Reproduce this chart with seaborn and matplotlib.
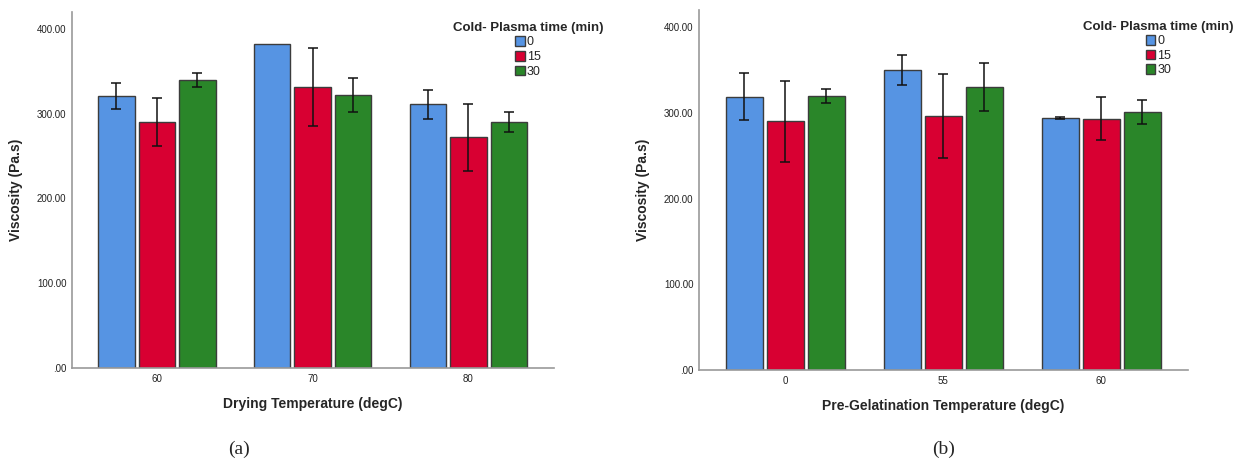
import numpy as np
import pandas as pd
import matplotlib.pyplot as plt
import seaborn as sns

# Values (means and +/- error)
plasma_times = ["0", "15", "30"]

drying_temps = ["60", "70", "80"]
drying_mean = {"0": [321, 382, 311], "15": [290, 331, 272], "30": [340, 322, 290]}
drying_err = {"0": [15, np.nan, 17], "15": [28, 46, 39], "30": [8, 20, 12]}

gel_temps = ["0", "55", "60"]
gel_mean = {"0": [319, 350, 294], "15": [290, 296, 293], "30": [320, 330, 301]}
gel_err = {"0": [27, 17, 0.6], "15": [47, 49, 25], "30": [8, 28, 14]}

colors = ["#5694e3", "#d80032", "#2a8629"]

sns.set_style("white")
plt.rcParams['font.family'] = ['Liberation Sans', 'DejaVu Sans']


def long_df(cats, means):
    rows = []
    for t in plasma_times:
        for c, m in zip(cats, means[t]):
            rows.append({"temp": c, "time": t, "visc": m})
    return pd.DataFrame(rows)


def panel(ax, cats, means, errs, xlabel, leg_x, leg_y):
    df = long_df(cats, means)
    sns.barplot(data=df, x="temp", y="visc", hue="time", order=cats,
                hue_order=plasma_times, palette=colors, saturation=1,
                edgecolor="#3c3c3c", linewidth=1, width=0.78, gap=0.1,
                errorbar=None, ax=ax)
    for cont, t in zip(ax.containers, plasma_times):
        xs = [p.get_x() + p.get_width() / 2 for p in cont.patches]
        ax.errorbar(xs, means[t], yerr=errs[t], fmt="none", ecolor="#111111",
                    elinewidth=1.1, capsize=3.8, capthick=1.1)
    ax.set_ylim(0, 420)
    ax.set_xlim(-0.545, 2.55)
    ax.set_yticks([0, 100, 200, 300, 400])
    ax.set_yticklabels([".00", "100.00", "200.00", "300.00", "400.00"])
    ax.tick_params(axis="both", length=0, labelsize=7, colors="#222222", pad=4)
    ax.set_xlabel(xlabel, fontsize=10, fontweight="bold", labelpad=10)
    ax.set_ylabel("Viscosity (Pa.s)", fontsize=10, fontweight="bold", labelpad=10)
    for s in ["top", "right"]:
        ax.spines[s].set_visible(False)
    for s in ["left", "bottom"]:
        ax.spines[s].set_color("#999999")
        ax.spines[s].set_linewidth(1.2)
    leg = ax.legend(title="Cold- Plasma time (min)", loc="upper center",
                    bbox_to_anchor=(leg_x, leg_y), frameon=False, fontsize=9,
                    handlelength=0.75, handleheight=0.8, handletextpad=0.15,
                    labelspacing=0.2, borderpad=0.2)
    leg.get_title().set_fontweight("bold")
    leg.get_title().set_fontsize(9.5)


fig = plt.figure(figsize=(12.4, 4.67), dpi=100)
ax1 = fig.add_axes([72 / 1240, 1 - 368 / 467, 482 / 1240, 356 / 467])
ax2 = fig.add_axes([699 / 1240, 1 - 370 / 467, 489 / 1240, 360 / 467])

panel(ax1, drying_temps, drying_mean, drying_err, "Drying Temperature (degC)", 0.946, 0.997)
panel(ax2, gel_temps, gel_mean, gel_err, "Pre-Gelatination Temperature (degC)", 0.94, 0.995)

fig.text(239 / 1240, 1 - 449 / 467, "(a)", family="Liberation Serif", fontsize=14,
         ha="center", va="center")
fig.text(944 / 1240, 1 - 449 / 467, "(b)", family="Liberation Serif", fontsize=14,
         ha="center", va="center")

fig.savefig("out.png", dpi=100)
